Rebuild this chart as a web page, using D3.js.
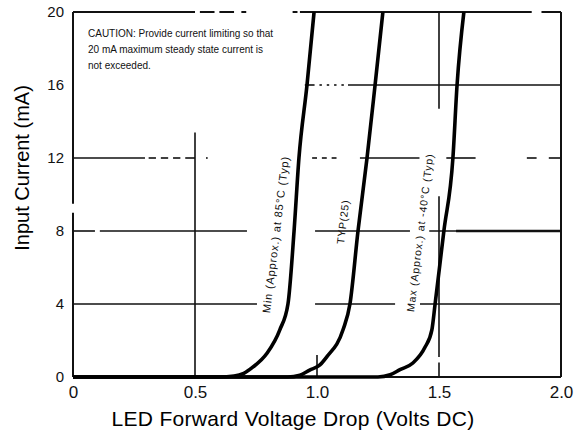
<!DOCTYPE html>
<html>
<head>
<meta charset="utf-8">
<script src="https://cdn.jsdelivr.net/npm/d3@7"></script>
<style>
  html, body { margin: 0; padding: 0; background: #fff; }
  svg { display: block; font-family: "Liberation Sans", Arial, sans-serif; }
</style>
</head>
<body>
<svg id="chart" width="578" height="437"></svg>
<script>
// ---- data ----
const xTicks = [0, 0.5, 1.0, 1.5, 2.0];
const xTickLabels = ["0", "0.5", "1.0", "1.5", "2.0"];
const yTicks = [0, 4, 8, 12, 16, 20];
const xTitle = "LED Forward Voltage Drop (Volts DC)";
const yTitle = "Input Current (mA)";
const noteLines = [
  "CAUTION: Provide current limiting so that",
  "20 mA maximum steady state current is",
  "not exceeded."
];
const seriesNames = ["Min (Approx.) at 85°C (Typ)", "TYP(25)", "Max (Approx.) at -40°C (Typ)"];

// forward voltage (V) / current (mA) for each curve
const voltsMin = [0, 0.60, 0.66, 0.70, 0.738, 0.795, 0.848, 0.881, 0.906, 0.926, 0.959, 0.988];
const currentMin = [0, 0, 0.05, 0.2, 0.55, 1.3, 2.6, 4.0, 8, 12, 16, 20];
const voltsTyp = [0, 0.88, 0.93, 0.97, 1.012, 1.04, 1.107, 1.135, 1.168, 1.205, 1.238, 1.27];
const currentTyp = [0, 0, 0.1, 0.38, 0.66, 1.1, 2.6, 4.0, 8, 12, 16, 20];
const voltsMax = [0, 1.25, 1.30, 1.34, 1.393, 1.443, 1.471, 1.484, 1.52, 1.557, 1.574, 1.602];
const currentMax = [0, 0, 0.12, 0.4, 0.77, 1.64, 2.6, 4.0, 8, 12, 16, 20];

// gridline pieces (scanned chart has broken grid lines), in data units
const hGrid4 = [[0, 0.754], [0.992, 1.32], [1.422, 2.0]];
const hGrid8 = [[0, 0.09], [0.11, 0.713], [0.992, 1.381], [1.46, 2.0]];
const hGrid12 = [[0, 0.295], [0.31, 0.34], [0.36, 0.39], [0.41, 0.44], [0.46, 0.5], [0.545, 0.552],
                 [0.98, 1.0], [1.02, 1.04], [1.06, 1.08], [1.176, 1.42], [1.53, 1.65], [1.86, 1.9], [1.95, 2.0]];
const hGrid16 = [[0.95, 0.99], [1.01, 1.02], [1.04, 1.05], [1.07, 1.08], [1.10, 1.11], [1.127, 2.0]];
const vGrid05 = [[0, 13.4]];
const vGrid10 = [[0, 1.2]];
const vGrid15 = [[0, 0.8], [1.1, 9.9], [14.7, 20]];
const frameTop = [[0, 0.5], [0.52, 0.58], [0.6, 0.66], [0.69, 0.71], [0.9, 0.92], [0.93, 1.88], [1.92, 2.0]];
const frameLeft = [[0, 9.0], [9.5, 20]];

// ---- drawing ----
const svg = d3.select("#chart");
const x = d3.scaleLinear().domain([0, 2]).range([73, 561]);
const y = d3.scaleLinear().domain([0, 20]).range([377, 12]);

const g = svg.append("g");

// gridlines
const hg = [[4, hGrid4], [8, hGrid8], [12, hGrid12], [16, hGrid16]];
hg.forEach(([level, segs]) => {
  g.selectAll(null).data(segs).enter().append("line")
    .attr("x1", d => x(d[0])).attr("x2", d => x(d[1]))
    .attr("y1", y(level)).attr("y2", y(level))
    .attr("stroke", "#111").attr("stroke-width", 1.6);
});
// thicker piece of 8 mA line on right
g.append("line").attr("x1", x(1.57)).attr("x2", x(2.0)).attr("y1", y(8)).attr("y2", y(8))
  .attr("stroke", "#111").attr("stroke-width", 2.6);

const vg = [[0.5, vGrid05], [1.0, vGrid10], [1.5, vGrid15]];
vg.forEach(([v, segs]) => {
  g.selectAll(null).data(segs).enter().append("line")
    .attr("x1", x(v)).attr("x2", x(v))
    .attr("y1", d => y(d[0])).attr("y2", d => y(d[1]))
    .attr("stroke", "#111").attr("stroke-width", 1.6);
});

// frame
g.selectAll(null).data(frameTop).enter().append("line")
  .attr("x1", d => x(d[0])).attr("x2", d => x(d[1]))
  .attr("y1", y(20)).attr("y2", y(20))
  .attr("stroke", "#111").attr("stroke-width", 2);
g.selectAll(null).data(frameLeft).enter().append("line")
  .attr("x1", x(0)).attr("x2", x(0))
  .attr("y1", d => y(d[0])).attr("y2", d => y(d[1]))
  .attr("stroke", "#111").attr("stroke-width", 2);
g.append("line").attr("x1", x(2)).attr("x2", x(2)).attr("y1", y(0)).attr("y2", y(20))
  .attr("stroke", "#111").attr("stroke-width", 2);
g.append("line").attr("x1", x(0)).attr("x2", x(2)).attr("y1", y(0)).attr("y2", y(0))
  .attr("stroke", "#111").attr("stroke-width", 2);

// curves
const line = d3.line().x(d => x(d[0])).y(d => y(d[1])).curve(d3.curveMonotoneX);
const series = [
  d3.zip(voltsMin, currentMin),
  d3.zip(voltsTyp, currentTyp),
  d3.zip(voltsMax, currentMax)
];
g.selectAll(null).data(series).enter().append("path")
  .attr("d", line)
  .attr("fill", "none")
  .attr("stroke", "#000")
  .attr("stroke-width", 3.6)
  .attr("stroke-linejoin", "round");

// curve labels
const labelPos = [[0.835, 7.8, 11], [1.11, 8.5, 10.5], [1.426, 7.9, 10.5]];
seriesNames.forEach((name, i) => {
  const [lv, li, fs] = labelPos[i];
  g.append("text")
    .attr("transform", `translate(${x(lv)},${y(li)}) rotate(-83)`)
    .attr("text-anchor", "middle")
    .attr("dominant-baseline", "middle")
    .attr("font-size", fs)
    .attr("letter-spacing", i === 1 ? 0.8 : 0.9)
    .attr("fill", "#111")
    .text(name);
});

// axes tick labels
const xAxis = d3.axisBottom(x).tickValues(xTicks)
  .tickFormat((d, i) => xTickLabels[i]).tickSize(0).tickPadding(9);
const xa = svg.append("g").attr("transform", `translate(0,${y(0)})`).call(xAxis);
xa.select(".domain").remove();
xa.selectAll("text").attr("font-size", 17).attr("fill", "#111")
  .attr("font-family", "Liberation Sans, Arial, sans-serif");

const yAxis = d3.axisLeft(y).tickValues(yTicks).tickFormat(d3.format("d")).tickSize(0).tickPadding(9);
const ya = svg.append("g").attr("transform", `translate(${x(0)},0)`).call(yAxis);
ya.select(".domain").remove();
ya.selectAll("text").attr("font-size", 15).attr("fill", "#111")
  .attr("font-family", "Liberation Sans, Arial, sans-serif");

// titles
svg.append("text").attr("x", 293).attr("y", 426)
  .attr("text-anchor", "middle").attr("font-size", 21).attr("letter-spacing", 0.3)
  .attr("fill", "#000").text(xTitle);
svg.append("text").attr("transform", "translate(29,168) rotate(-90)")
  .attr("text-anchor", "middle").attr("font-size", 20).attr("fill", "#000").text(yTitle);

// note
svg.append("g").selectAll("text").data(noteLines).enter().append("text")
  .attr("x", 88).attr("y", (d, i) => 37 + i * 16)
  .attr("font-size", 10).attr("fill", "#111").text(d => d);
</script>
</body>
</html>
